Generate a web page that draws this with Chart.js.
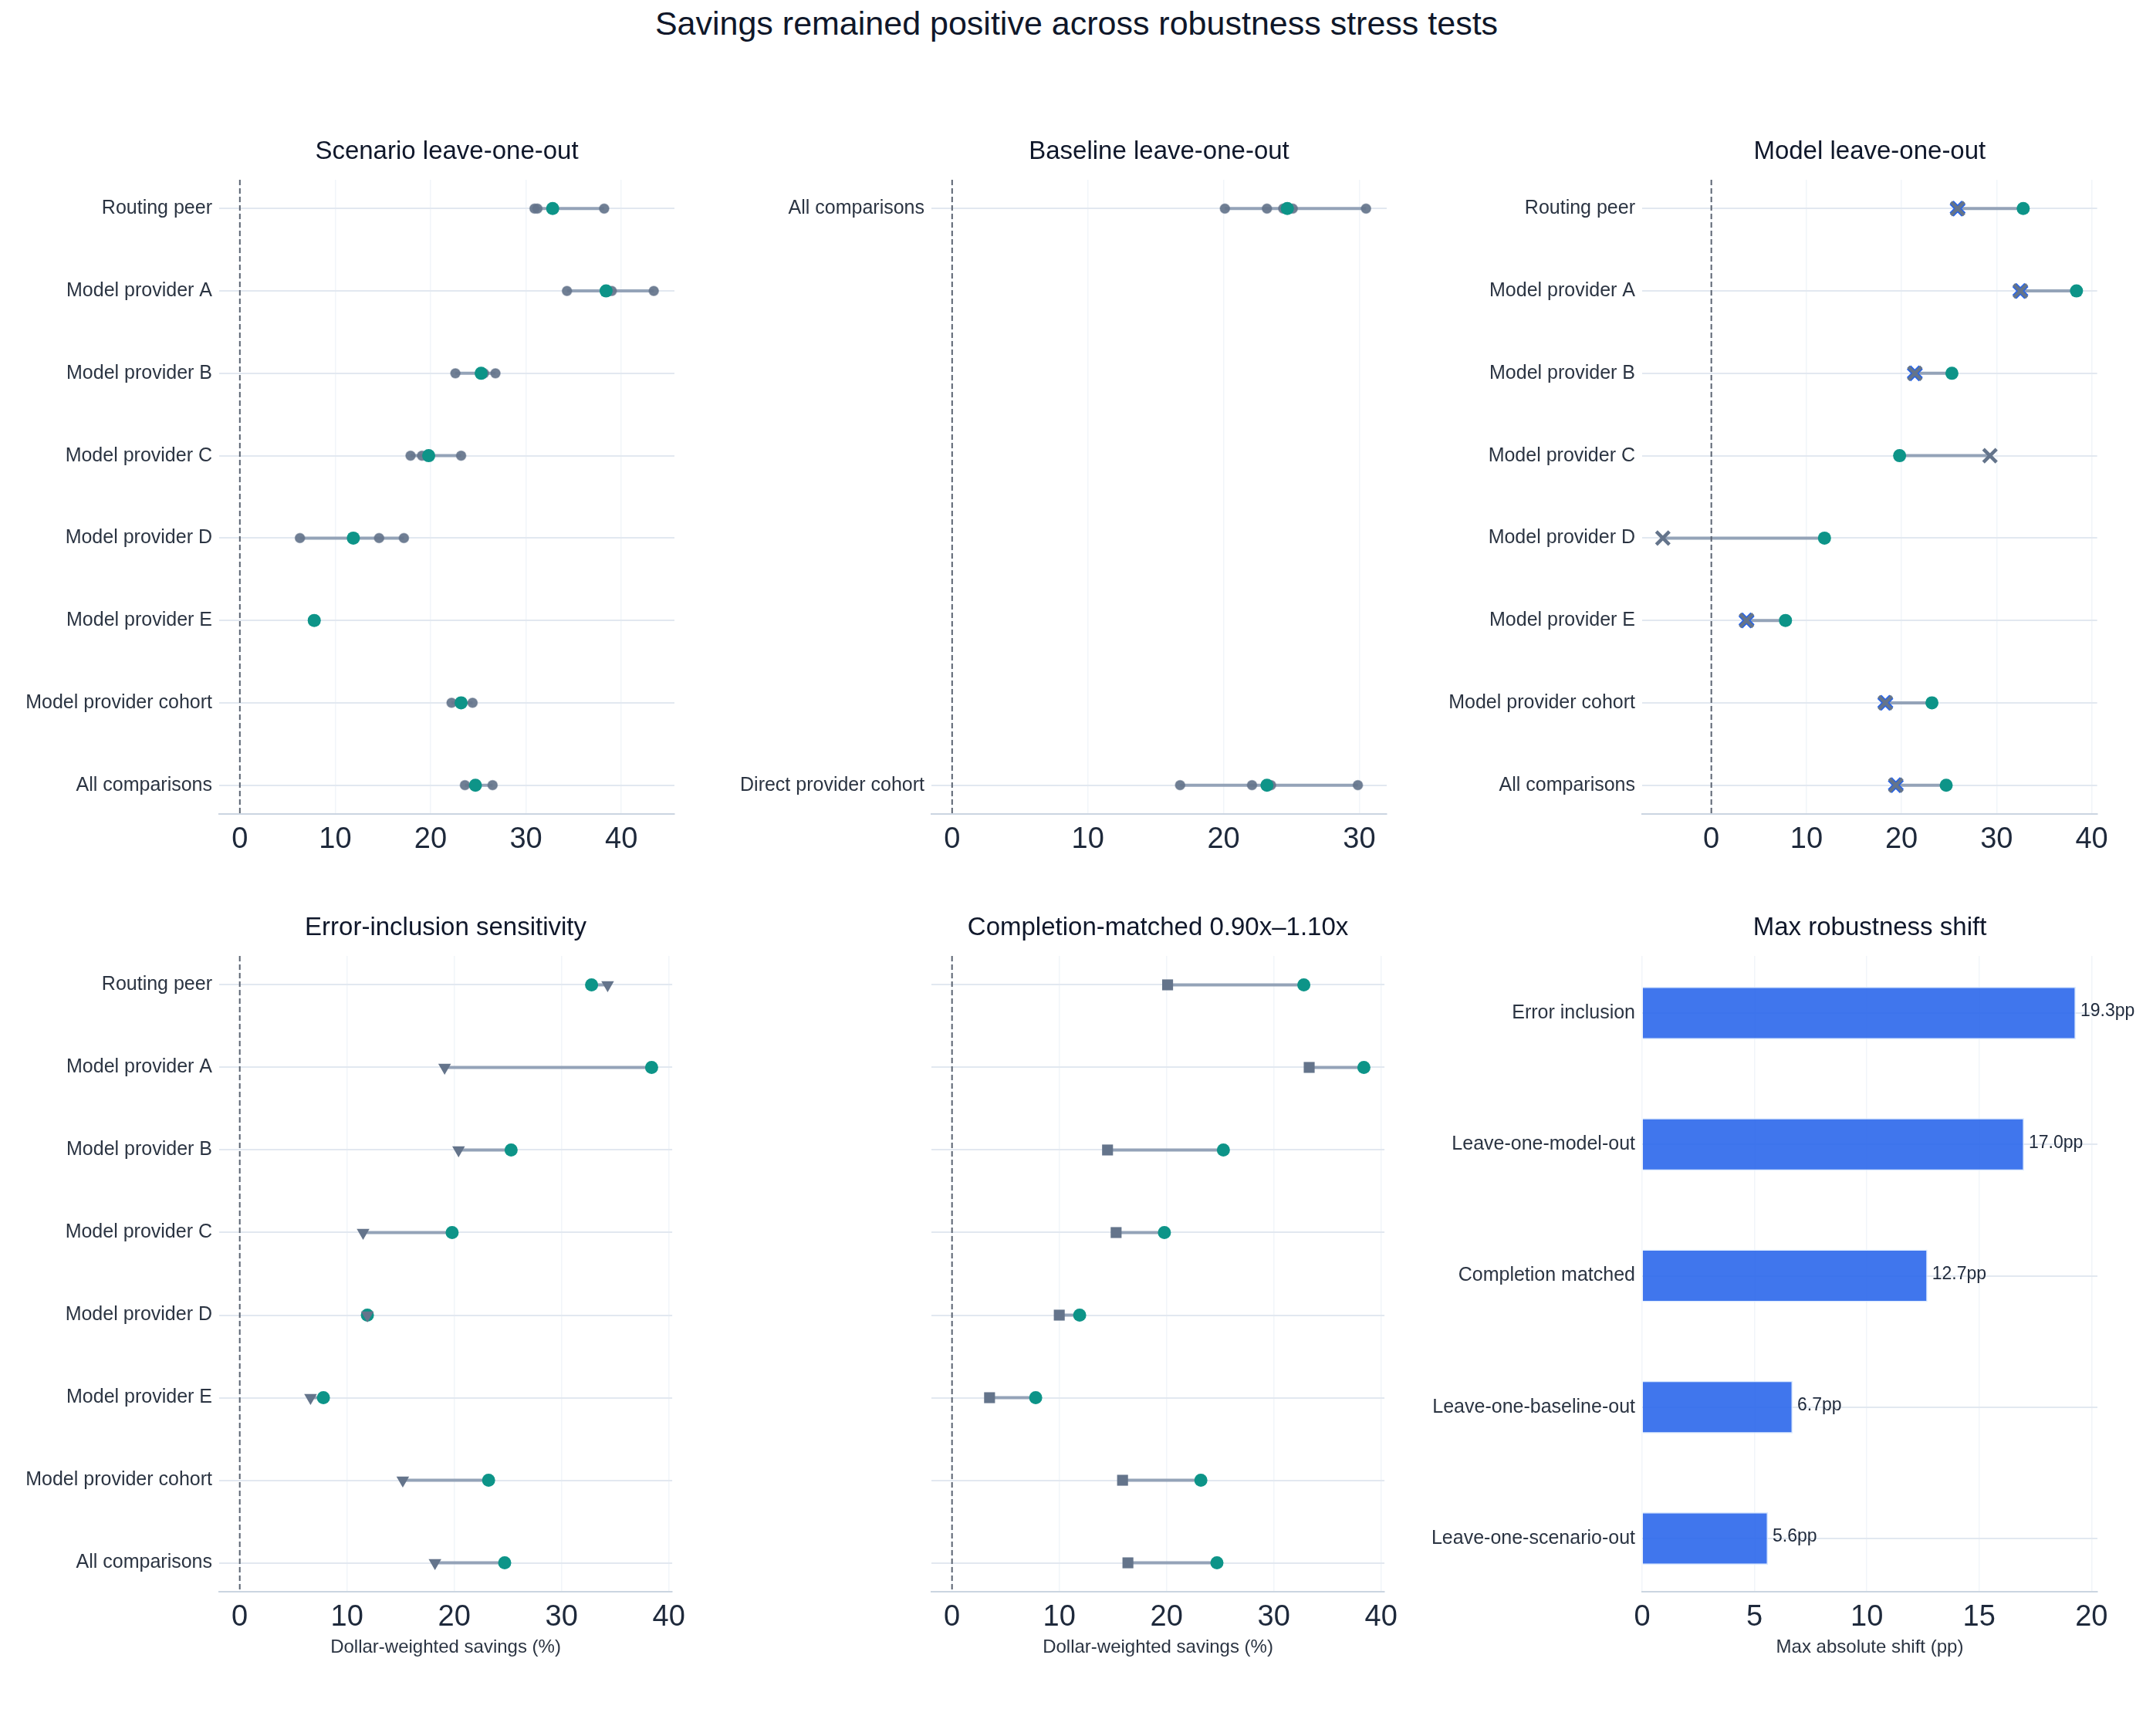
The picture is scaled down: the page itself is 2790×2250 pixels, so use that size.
<!DOCTYPE html>
<html>
<head>
<meta charset="utf-8">
<title>Savings remained positive across robustness stress tests</title>
<script src="https://cdn.jsdelivr.net/npm/chart.js@4.4.1/dist/chart.umd.min.js"></script>
<style>
  html, body { margin: 0; padding: 0; background: #fff; }
  body { width: 2790px; height: 2250px; position: relative; overflow: hidden;
         font-family: "Liberation Sans", Arial, Helvetica, sans-serif; }
  #suptitle { position: absolute; left: 0; top: 4px; width: 2790px; text-align: center;
              font-size: 43px; line-height: 52px; color: #0f172a; }
  canvas { position: absolute; }
</style>
</head>
<body>
<div id="suptitle">Savings remained positive across robustness stress tests</div>
<canvas id="scenario"></canvas>
<canvas id="baseline"></canvas>
<canvas id="model"></canvas>
<canvas id="errors"></canvas>
<canvas id="completion"></canvas>
<canvas id="shift"></canvas>
<script>
// ---- data ----
const entityRows = ['Routing peer', 'Model provider A', 'Model provider B', 'Model provider C',
                    'Model provider D', 'Model provider E', 'Model provider cohort', 'All comparisons'];
const fullSample = [32.8, 38.4, 25.3, 19.8, 11.9, 7.8, 23.2, 24.7];

// one list of leave-one-scenario-out estimates per row
const scenarioLeaveOut = [
  [30.9, 31.2, 38.2],
  [34.3, 39.0, 43.4],
  [22.6, 25.6, 26.8],
  [17.9, 19.1, 23.2],
  [6.3, 14.6, 17.2],
  [7.7, 7.9],
  [22.2, 24.4],
  [23.6, 26.5]
];

const baselineRows = ['All comparisons', 'Direct provider cohort'];
const baselineFull = [24.7, 23.2];
const baselineLeaveOut = [
  [20.1, 23.2, 24.4, 25.1, 30.5],
  [16.8, 22.1, 23.5, 29.9]
];

const modelLeaveOut = [25.9, 32.5, 21.4, 29.3, -5.1, 3.7, 18.3, 19.4];
const modelLeaveOutFlagged = [25.9, 32.5, 21.4, null, null, 3.7, 18.3, 19.4];

const errorIncluded = [34.3, 19.1, 20.4, 11.5, 11.9, 6.6, 15.2, 18.2];
const completionMatched = [20.1, 33.3, 14.5, 15.3, 10.0, 3.5, 15.9, 16.4];

const shiftTests = ['Error inclusion', 'Leave-one-model-out', 'Completion matched',
                    'Leave-one-baseline-out', 'Leave-one-scenario-out'];
const maxShift = [19.3, 17.0, 12.7, 6.7, 5.6];

const savingsTicks = [0, 10, 20, 30, 40];
const baselineTicks = [0, 10, 20, 30];
const shiftTicks = [0, 5, 10, 15, 20];

// ---- layout ----
const PLOT_LEFT = [284, 1207, 2128];
const PLOT_TOP = [233, 1239];
const PLOT_W = 590;
const PLOT_H = [822, 824];
const Y_AXIS_W = 280;
const TITLE_H = 80;
const X_AXIS_H = [62, 112];

const TEAL = '#0d9488';
const SLATE = '#64748b';
const LABEL = '#2b3442';
const FONT = '"Liberation Sans", Arial, Helvetica, sans-serif';

Chart.defaults.font.family = FONT;
Chart.defaults.animation = false;

function placeCanvas(el, col, row, padRight) {
  el.width = Y_AXIS_W + PLOT_W + padRight;
  el.height = TITLE_H + PLOT_H[row] + X_AXIS_H[row];
  el.style.width = el.width + 'px';
  el.style.height = el.height + 'px';
  el.style.left = (PLOT_LEFT[col] - Y_AXIS_W) + 'px';
  el.style.top = (PLOT_TOP[row] - TITLE_H) + 'px';
}

function paddedRange(values) {
  const lo = Math.min(0, ...values);
  const hi = Math.max(0, ...values);
  const pad = (hi - lo) * 0.05;
  return [lo - pad, hi + pad];
}

const toList = v => Array.isArray(v) ? v : (v == null ? [] : [v]);

function titleOpts(text) {
  return {
    display: true, text: text, color: '#0f172a', fullSize: false,
    font: { size: 33, weight: 'normal' },
    padding: { top: 23.7, bottom: 16.7 }
  };
}

function xScale(range, ticks, row, xTitle) {
  return {
    type: 'linear', min: range[0], max: range[1],
    afterBuildTicks: s => { s.ticks = ticks.map(v => ({ value: v })); },
    afterFit: s => { s.height = X_AXIS_H[row]; },
    ticks: { font: { size: 38 }, color: '#1e293b', padding: 11 },
    grid: { color: '#f1f5f9', lineWidth: 1.5, drawTicks: false },
    border: { display: true, color: '#cbd5e1', width: 2 },
    title: { display: !!xTitle, text: xTitle || '', color: LABEL,
             font: { size: 24 }, padding: { top: 0, bottom: 25.6 } }
  };
}

function rowScale(rows, range, showLabels) {
  return {
    type: 'linear', reverse: true, min: range[0], max: range[1], offset: false,
    afterBuildTicks: s => { s.ticks = rows.map((_, i) => ({ value: i })); },
    afterFit: s => { s.width = Y_AXIS_W; },
    ticks: { display: showLabels, autoSkip: false, font: { size: 25 }, color: LABEL,
             padding: 9, callback: v => rows[v] },
    grid: { color: '#e2e8f0', lineWidth: 2, drawTicks: false, offset: false },
    border: { display: false }
  };
}

// dumbbell panel: teal full-sample dot, connector from min to max, extra markers
function dumbbell(id, o) {
  const el = document.getElementById(id);
  placeCanvas(el, o.col, o.row, o.padRight || 25);
  const n = o.rows.length;
  const yRange = [-(n - 1) * 0.05, (n - 1) * 1.05];
  const perRow = o.rows.map((_, i) =>
    [o.base[i]].concat(...o.markers.map(m => toList(m.values[i]))));
  const xRange = paddedRange(perRow.flat());

  const datasets = [];
  perRow.forEach((vals, i) => {
    datasets.push({
      data: [{ x: Math.min(...vals), y: i }, { x: Math.max(...vals), y: i }],
      showLine: true, borderColor: '#94a3b8', borderWidth: 4, pointRadius: 0, order: 10
    });
  });
  datasets.push({
    data: [{ x: 0, y: yRange[0] }, { x: 0, y: yRange[1] }],
    showLine: true, borderColor: '#5b6472', borderWidth: 2, borderDash: [7, 4],
    pointRadius: 0, order: 8
  });
  datasets.push({
    data: o.base.map((v, i) => ({ x: v, y: i })),
    pointRadius: 8.5, backgroundColor: TEAL, borderColor: TEAL, borderWidth: 0, order: 3
  });
  o.markers.forEach(m => {
    const pts = [];
    m.values.forEach((v, i) => toList(v).forEach(x => pts.push({ x: x, y: i })));
    datasets.push(Object.assign({ data: pts }, m.style));
  });

  return new Chart(el, {
    type: 'scatter',
    data: { datasets: datasets },
    options: {
      responsive: false,
      devicePixelRatio: 1,
      layout: { padding: { left: 0, right: o.padRight || 25, top: 0, bottom: 0 } },
      plugins: { legend: { display: false }, tooltip: { enabled: false }, title: titleOpts(o.title) },
      scales: {
        x: xScale(xRange, o.ticks, o.row, o.xTitle),
        y: rowScale(o.rows, yRange, o.showLabels !== false)
      }
    }
  });
}

const grayDot = { pointStyle: 'circle', pointRadius: 6.2, backgroundColor: 'rgba(100,116,139,0.92)',
                  borderColor: 'rgba(100,116,139,0.5)', borderWidth: 1.5, order: 5 };

dumbbell('scenario', {
  col: 0, row: 0, title: 'Scenario leave-one-out', rows: entityRows, base: fullSample,
  ticks: savingsTicks,
  markers: [{ values: scenarioLeaveOut, style: grayDot }]
});

dumbbell('baseline', {
  col: 1, row: 0, title: 'Baseline leave-one-out', rows: baselineRows, base: baselineFull,
  ticks: baselineTicks,
  markers: [{ values: baselineLeaveOut, style: grayDot }]
});

dumbbell('model', {
  col: 2, row: 0, title: 'Model leave-one-out', rows: entityRows, base: fullSample,
  ticks: savingsTicks,
  markers: [
    { values: modelLeaveOutFlagged, style: { pointStyle: 'crossRot', pointRadius: 11,
      borderColor: '#2563eb', backgroundColor: '#2563eb', borderWidth: 7.5, order: 1 } },
    { values: modelLeaveOut, style: { pointStyle: 'crossRot', pointRadius: 12,
      borderColor: SLATE, backgroundColor: SLATE, borderWidth: 4.5, order: 0 } }
  ]
});

dumbbell('errors', {
  col: 0, row: 1, title: 'Error-inclusion sensitivity', rows: entityRows, base: fullSample,
  ticks: savingsTicks, xTitle: 'Dollar-weighted savings (%)',
  markers: [{ values: errorIncluded, style: { pointStyle: 'triangle', pointRotation: 180,
    pointRadius: 9.5, backgroundColor: SLATE, borderColor: SLATE, borderWidth: 0, order: 1 } }]
});

dumbbell('completion', {
  col: 1, row: 1, title: 'Completion-matched 0.90x\u20131.10x', rows: entityRows, base: fullSample,
  ticks: savingsTicks, xTitle: 'Dollar-weighted savings (%)', showLabels: false,
  markers: [{ values: completionMatched, style: { pointStyle: 'rect', pointRadius: 10,
    backgroundColor: SLATE, borderColor: SLATE, borderWidth: 0, order: 1 } }]
});

// ---- max shift bars ----
const barValueLabels = {
  id: 'barValueLabels',
  afterDatasetsDraw(chart) {
    const ctx = chart.ctx;
    const meta = chart.getDatasetMeta(0);
    ctx.save();
    ctx.font = '23px ' + FONT;
    ctx.fillStyle = '#1e293b';
    ctx.textBaseline = 'middle';
    ctx.textAlign = 'left';
    meta.data.forEach((bar, i) => {
      ctx.fillText(maxShift[i].toFixed(1) + 'pp', bar.x + 6, bar.y - 2);
    });
    ctx.restore();
  }
};

(function () {
  const el = document.getElementById('shift');
  const padRight = 70;
  placeCanvas(el, 2, 1, padRight);
  const n = shiftTests.length;
  const barH = 0.4;
  const span = (n - 1) + barH;
  const yRange = [-barH / 2 - span * 0.05 - 0.015, (n - 1) + barH / 2 + span * 0.05 - 0.015];
  new Chart(el, {
    type: 'bar',
    data: {
      datasets: [{
        data: maxShift.map((v, i) => ({ x: v, y: i })),
        backgroundColor: 'rgba(37,99,235,0.88)',
        borderColor: 'rgba(219,234,254,0.95)',
        borderWidth: 1.5,
        categoryPercentage: 1,
        barPercentage: barH
      }]
    },
    options: {
      indexAxis: 'y',
      responsive: false,
      devicePixelRatio: 1,
      layout: { padding: { left: 0, right: padRight, top: 0, bottom: 0 } },
      plugins: { legend: { display: false }, tooltip: { enabled: false },
                 title: titleOpts('Max robustness shift') },
      scales: {
        x: xScale([0, Math.max(...maxShift) * 1.05], shiftTicks, 1, 'Max absolute shift (pp)'),
        y: rowScale(shiftTests, yRange, true)
      }
    },
    plugins: [barValueLabels]
  });
})();
</script>
</body>
</html>
